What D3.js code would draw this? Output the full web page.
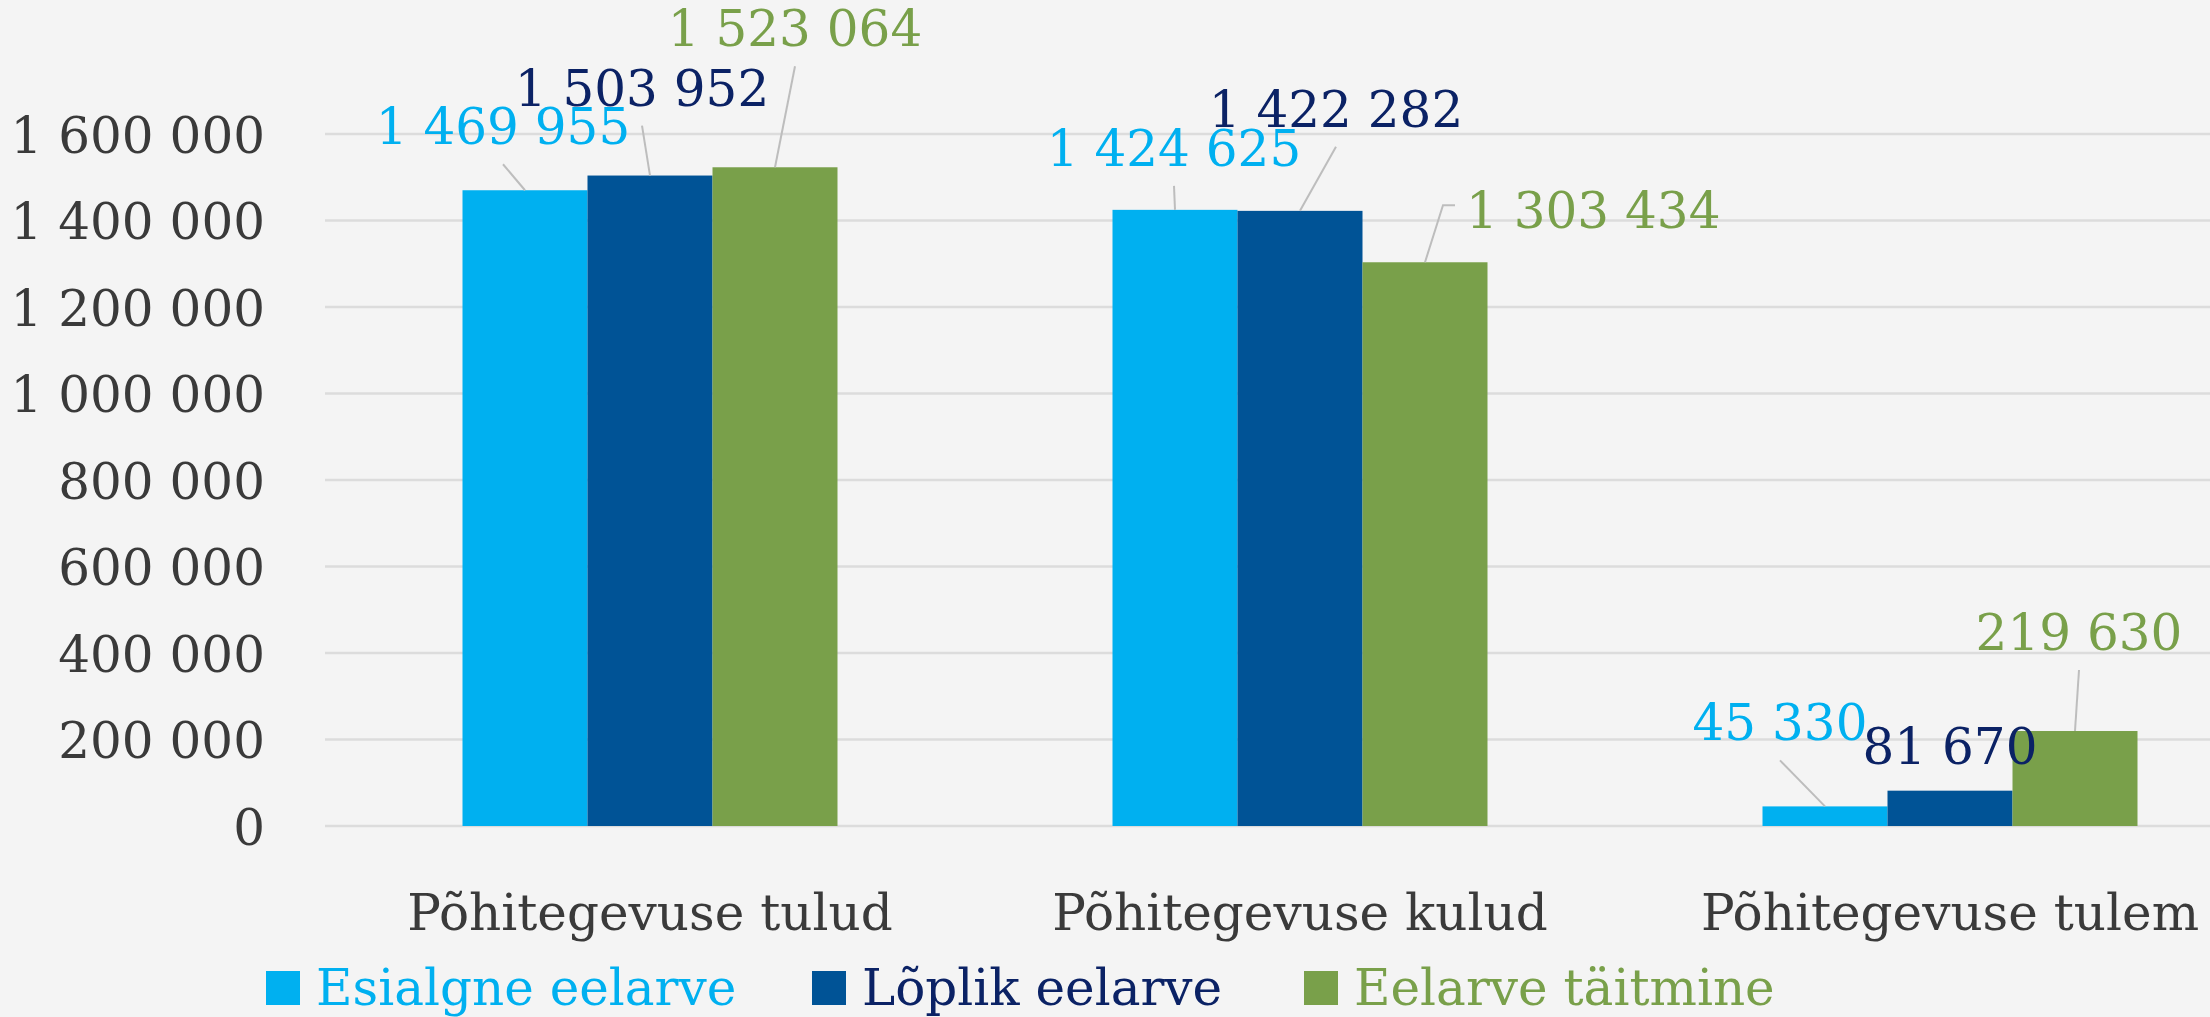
<!DOCTYPE html>
<html>
<head>
<meta charset="utf-8">
<script src="https://cdn.jsdelivr.net/npm/d3@7"></script>
<style>
  html, body { margin: 0; padding: 0; background: #f4f4f4; }
  svg { display: block; font-family: "DejaVu Serif", serif; }
</style>
</head>
<body>
<div id="chart"></div>
<script>
// data
var categories = ["Põhitegevuse tulud", "Põhitegevuse kulud", "Põhitegevuse tulem"];
var seriesNames = ["Esialgne eelarve", "Lõplik eelarve", "Eelarve täitmine"];
var esialgne = [1469955, 1424625, 45330];
var loplik = [1503952, 1422282, 81670];
var taitmine = [1523064, 1303434, 219630];
var yTicks = [0, 200000, 400000, 600000, 800000, 1000000, 1200000, 1400000, 1600000];

// styles
var barColors = ["#00b0f0", "#005396", "#79a04a"];
var textColors = ["#00b0f0", "#0b2265", "#79a04a"];
var fontSize = 50;

// label placement relative to the top of each bar: [dx, dy, leader]
var labelPos = [
  [[-22, -64, "below"], [-1, -62, "below"], [-45, -84, "below"]],
  [[-8, -88, "below"], [36, -102, "below"], [0, -45, "none"]],
  [[20, -139, "below"], [162, -52, "left"], [4, -99, "below"]]
];

var svgWidth = 2210;
var svgHeight = 1017;

var rows = [];
var values = [esialgne, loplik, taitmine];
categories.forEach(function(c, i) {
  seriesNames.forEach(function(s, j) {
    rows.push({cat: c, series: s, si: j, ci: i, value: values[j][i]});
  });
});

var fmt = d3.formatLocale({decimal: ",", thousands: "\u00a0", grouping: [3], currency: ["", ""]}).format(",d");

var svg = d3.select("#chart")
  .append("svg")
  .attr("width", svgWidth)
  .attr("height", svgHeight);

svg.append("rect")
  .attr("width", svgWidth)
  .attr("height", svgHeight)
  .attr("fill", "#f4f4f4");

var x0 = d3.scaleBand()
  .domain(categories)
  .range([325, 2275])
  .padding(0);

var x1 = d3.scaleBand()
  .domain(seriesNames)
  .range([0, x0.bandwidth()])
  .paddingInner(0)
  .paddingOuter(1.1);

var y = d3.scaleLinear()
  .domain([0, 1600000])
  .range([826, 134]);

// gridlines
svg.append("g")
  .selectAll("line")
  .data(yTicks)
  .enter()
  .append("line")
  .attr("x1", 325)
  .attr("x2", svgWidth)
  .attr("y1", d => y(d))
  .attr("y2", d => y(d))
  .attr("stroke", "#dcdcdc")
  .attr("stroke-width", 2.5);

// y axis labels
var leftAxis = d3.axisLeft(y).tickValues(yTicks).tickFormat(fmt).tickSize(0).tickPadding(0);
var yAxisG = svg.append("g")
  .attr("transform", "translate(265,0)")
  .call(leftAxis);
yAxisG.select(".domain").remove();
yAxisG.selectAll("text")
  .attr("font-family", "DejaVu Serif")
  .attr("font-size", fontSize)
  .attr("fill", "#3a3a3a")
  .attr("dy", "0.36em");

// bars
svg.append("g")
  .selectAll("rect")
  .data(rows)
  .enter()
  .append("rect")
  .attr("x", d => x0(d.cat) + x1(d.series))
  .attr("y", d => y(d.value))
  .attr("width", x1.bandwidth())
  .attr("height", d => y(0) - y(d.value))
  .attr("fill", d => barColors[d.si]);

// data labels + leader lines
var labelG = svg.append("g");
rows.forEach(function(d) {
  var p = labelPos[d.si][d.ci];
  var bx = x0(d.cat) + x1(d.series) + x1.bandwidth() / 2;
  var by = y(d.value);
  var lx = bx + p[0];
  var ly = by + p[1];
  var t = labelG.append("text")
    .attr("x", lx)
    .attr("y", ly)
    .attr("dy", "0.36em")
    .attr("text-anchor", p[2] == "left" ? "start" : "middle")
    .attr("font-size", fontSize)
    .attr("fill", textColors[d.si])
    .text(fmt(d.value));
  if (p[2] == "left") {
    t.attr("x", lx - 121);
  }
  if (p[2] == "below") {
    labelG.append("line")
      .attr("x1", lx).attr("y1", ly + 38)
      .attr("x2", bx).attr("y2", by)
      .attr("stroke", "#bdbdbd").attr("stroke-width", 2);
  } else if (p[2] == "left") {
    labelG.append("polyline")
      .attr("points", [[bx, by], [lx - 144, ly - 5], [lx - 132, ly - 5]].join(" "))
      .attr("fill", "none")
      .attr("stroke", "#bdbdbd").attr("stroke-width", 2);
  }
});

// category labels
var bottomAxis = d3.axisBottom(x0).tickSize(0).tickPadding(0);
var xAxisG = svg.append("g")
  .attr("transform", "translate(0,930)")
  .call(bottomAxis);
xAxisG.select(".domain").remove();
xAxisG.selectAll("text")
  .attr("font-family", "DejaVu Serif")
  .attr("font-size", fontSize)
  .attr("fill", "#3a3a3a")
  .attr("dy", 0);

// legend
var legendX = [266, 812, 1304];
var legend = svg.append("g")
  .selectAll("g")
  .data(seriesNames)
  .enter()
  .append("g")
  .attr("transform", (d, i) => "translate(" + legendX[i] + ",971)");
legend.append("rect")
  .attr("width", 34)
  .attr("height", 34)
  .attr("fill", (d, i) => barColors[i]);
legend.append("text")
  .attr("x", 50)
  .attr("y", 34)
  .attr("font-size", fontSize)
  .attr("fill", (d, i) => textColors[i])
  .text(d => d);
</script>
</body>
</html>
